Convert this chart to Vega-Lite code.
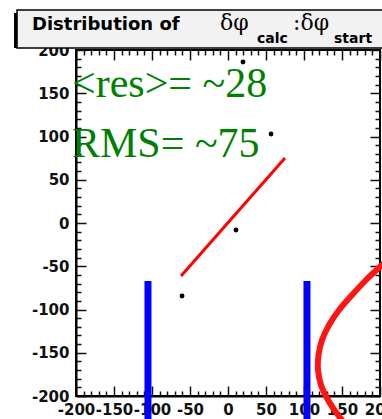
{
  "$schema": "https://vega.github.io/schema/vega-lite/v6.json",
  "width": 304,
  "height": 346,
  "autosize": {"type": "none"},
  "padding": {"left": 76, "top": 50, "right": 2, "bottom": 23},
  "background": "white",
  "config": {
    "view": {"stroke": "black", "strokeWidth": 2}
  },
  "datasets": {
    "points": [
      {"x": -60.5, "y": -84.4},
      {"x": 10.5, "y": -8.1},
      {"x": 56.6, "y": 102.9},
      {"x": 19.7, "y": 186.1}
    ],
    "fit": [
      {"x": -61.8, "y": -61.3},
      {"x": 75.0, "y": 75.1}
    ],
    "cuts": [
      {"x": -105.3, "top": -67, "bottom": -232},
      {"x": 103.9, "top": -67, "bottom": -232}
    ],
    "curve": [
      {"o": 1, "x": 223.7, "y": -31.2},
      {"o": 2, "x": 202.6, "y": -48.6},
      {"o": 3, "x": 181.6, "y": -65.9},
      {"o": 4, "x": 163.2, "y": -83.2},
      {"o": 5, "x": 146.1, "y": -100.6},
      {"o": 6, "x": 132.9, "y": -117.9},
      {"o": 7, "x": 123.7, "y": -135.3},
      {"o": 8, "x": 119.1, "y": -152.6},
      {"o": 9, "x": 118.4, "y": -169.9},
      {"o": 10, "x": 122.4, "y": -187.3},
      {"o": 11, "x": 131.6, "y": -204.6},
      {"o": 12, "x": 144.7, "y": -222.0},
      {"o": 13, "x": 160.5, "y": -239.3}
    ],
    "notes": [
      {"x": -205.3, "y": 145.7, "text": "<res>= ~28"},
      {"x": -205.3, "y": 76.3, "text": "RMS= ~75"}
    ],
    "box": [
      {"x": -277.6, "x2": 213, "y": 246.2, "y2": 202.3}
    ],
    "titleMain": [
      {"x": -257.9, "y": 223.1, "text": "Distribution of"}
    ],
    "titleGreek": [
      {"x": -10.5, "y": 223.1, "text": "δφ"},
      {"x": 85.5, "y": 223.1, "text": ":δφ"}
    ],
    "titleSub": [
      {"x": 38.2, "y": 208.1, "text": "calc"},
      {"x": 139.5, "y": 208.1, "text": "start"}
    ]
  },
  "layer": [
    {
      "data": {"name": "points"},
      "mark": {"type": "point", "filled": true, "color": "black", "size": 24, "opacity": 1},
      "encoding": {
        "x": {"field": "x", "type": "quantitative", "scale": {"domain": [-200, 200], "nice": false, "zero": false},
          "axis": {"orient": "bottom", "title": null,
            "values": [-200, -190, -180, -170, -160, -150, -140, -130, -120, -110, -100, -90, -80, -70, -60, -50, -40, -30, -20, -10, 0, 10, 20, 30, 40, 50, 60, 70, 80, 90, 100, 110, 120, 130, 140, 150, 160, 170, 180, 190, 200],
            "ticks": false, "domain": true, "domainColor": "black", "domainWidth": 2,
            "labelPadding": 6, "labelFont": "DejaVu Sans", "labelFontWeight": "bold", "labelFontSize": 15, "labelColor": "#111111", "labelOverlap": false, "labelFlush": false, "labelBound": false,
            "labelExpr": "datum.value % 50 === 0 ? replace(datum.label, '−', '-') : ''",
            "grid": true, "gridColor": "#111111", "gridWidth": 1.5, "gridOpacity": 1,
            "gridDash": {"condition": {"test": "datum.value % 50 === 0", "value": [10, 326]}, "value": [5, 336]}}},
        "y": {"field": "y", "type": "quantitative", "scale": {"domain": [-200, 200], "nice": false, "zero": false},
          "axis": {"orient": "left", "title": null,
            "values": [-200, -190, -180, -170, -160, -150, -140, -130, -120, -110, -100, -90, -80, -70, -60, -50, -40, -30, -20, -10, 0, 10, 20, 30, 40, 50, 60, 70, 80, 90, 100, 110, 120, 130, 140, 150, 160, 170, 180, 190, 200],
            "ticks": false, "domain": true, "domainColor": "black", "domainWidth": 2,
            "labelPadding": 7, "labelFont": "DejaVu Sans", "labelFontWeight": "bold", "labelFontSize": 15, "labelColor": "#111111", "labelOverlap": false, "labelFlush": false, "labelBound": false,
            "labelExpr": "datum.value % 50 === 0 ? replace(datum.label, '−', '-') : ''",
            "grid": true, "gridColor": "#111111", "gridWidth": 1.5, "gridOpacity": 1,
            "gridDash": {"condition": {"test": "datum.value % 50 === 0", "value": [10, 284]}, "value": [5, 294]}}}
      }
    },
    {
      "data": {"name": "fit"},
      "mark": {"type": "line", "color": "#ff0000", "strokeWidth": 3},
      "encoding": {
        "x": {"field": "x", "type": "quantitative", "axis": null},
        "y": {"field": "y", "type": "quantitative", "axis": null}
      }
    },
    {
      "data": {"name": "cuts"},
      "mark": {"type": "rule", "color": "#0000ff", "strokeWidth": 7},
      "encoding": {
        "x": {"field": "x", "type": "quantitative", "axis": null},
        "y": {"field": "top", "type": "quantitative", "axis": null},
        "y2": {"field": "bottom"}
      }
    },
    {
      "data": {"name": "curve"},
      "mark": {"type": "line", "color": "#ff1414", "strokeWidth": 6, "interpolate": "cardinal"},
      "encoding": {
        "x": {"field": "x", "type": "quantitative", "axis": null},
        "y": {"field": "y", "type": "quantitative", "axis": null},
        "order": {"field": "o", "type": "quantitative"}
      }
    },
    {
      "data": {"name": "notes"},
      "mark": {"type": "text", "font": "Liberation Serif", "fontSize": 42, "color": "#008000", "align": "left", "baseline": "alphabetic"},
      "encoding": {
        "x": {"field": "x", "type": "quantitative", "axis": null},
        "y": {"field": "y", "type": "quantitative", "axis": null},
        "text": {"field": "text"}
      }
    },
    {
      "data": {"name": "box"},
      "mark": {"type": "rect", "fill": "black", "xOffset": -3, "yOffset": 3},
      "encoding": {
        "x": {"field": "x", "type": "quantitative", "axis": null},
        "x2": {"field": "x2"},
        "y": {"field": "y", "type": "quantitative", "axis": null},
        "y2": {"field": "y2"}
      }
    },
    {
      "data": {"name": "box"},
      "mark": {"type": "rect", "fill": "#f2f2f2", "stroke": "black", "strokeWidth": 1.5},
      "encoding": {
        "x": {"field": "x", "type": "quantitative", "axis": null},
        "x2": {"field": "x2"},
        "y": {"field": "y", "type": "quantitative", "axis": null},
        "y2": {"field": "y2"}
      }
    },
    {
      "data": {"name": "titleMain"},
      "mark": {"type": "text", "font": "DejaVu Sans", "fontWeight": "bold", "fontSize": 18, "color": "black", "align": "left", "baseline": "alphabetic"},
      "encoding": {
        "x": {"field": "x", "type": "quantitative", "axis": null},
        "y": {"field": "y", "type": "quantitative", "axis": null},
        "text": {"field": "text"}
      }
    },
    {
      "data": {"name": "titleGreek"},
      "mark": {"type": "text", "font": "DejaVu Serif", "fontSize": 22, "color": "black", "align": "left", "baseline": "alphabetic"},
      "encoding": {
        "x": {"field": "x", "type": "quantitative", "axis": null},
        "y": {"field": "y", "type": "quantitative", "axis": null},
        "text": {"field": "text"}
      }
    },
    {
      "data": {"name": "titleSub"},
      "mark": {"type": "text", "font": "DejaVu Sans", "fontWeight": "bold", "fontSize": 14, "color": "black", "align": "left", "baseline": "alphabetic"},
      "encoding": {
        "x": {"field": "x", "type": "quantitative", "axis": null},
        "y": {"field": "y", "type": "quantitative", "axis": null},
        "text": {"field": "text"}
      }
    }
  ],
  "resolve": {"axis": {"x": "independent", "y": "independent"}}
}
